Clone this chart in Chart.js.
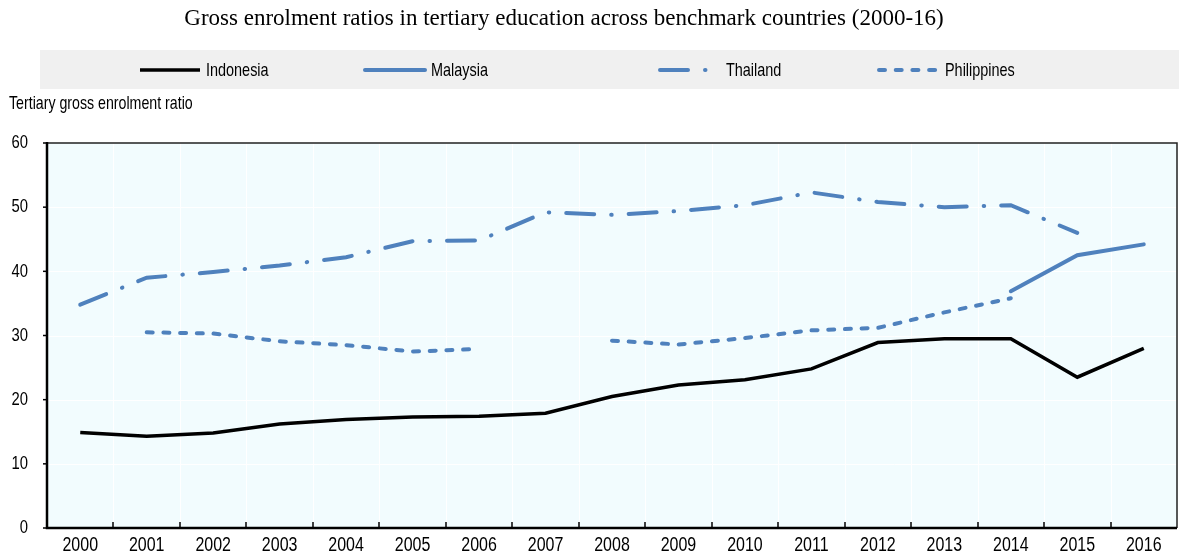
<!DOCTYPE html>
<html>
<head>
<meta charset="utf-8">
<script src="https://cdn.jsdelivr.net/npm/chart.js@4/dist/chart.umd.min.js"></script>
<style>
  html, body { margin: 0; padding: 0; background: #fff; }
  #wrap { width: 1179px; height: 558px; position: relative; }
</style>
</head>
<body>
<div id="wrap"><canvas id="grafico"></canvas></div>
<script>
const years = ['2000', '2001', '2002', '2003', '2004', '2005', '2006', '2007', '2008',
  '2009', '2010', '2011', '2012', '2013', '2014', '2015', '2016'];
const indonesia = [14.9, 14.3, 14.8, 16.2, 16.9, 17.3, 17.4, 17.9, 20.5, 22.3, 23.1, 24.8, 28.9, 29.5, 29.5, 23.5, 28.0];
const malaysia = [null, null, null, null, null, null, null, null, null, null, null, null, null, null, 36.9, 42.5, 44.2];
const thailand = [34.8, 39.0, 39.9, 40.9, 42.2, 44.7, 44.8, 49.2, 48.8, 49.4, 50.3, 52.3, 50.8, 50.0, 50.3, 46.0, null];
const philippines = [null, 30.5, 30.3, 29.1, 28.5, 27.5, 27.9, null, 29.2, 28.6, 29.6, 30.8, 31.2, 33.6, 35.8, null, null];
const yTicks = [0, 10, 20, 30, 40, 50, 60];

const titulo = 'Gross enrolment ratios in tertiary education across benchmark countries (2000-16)';
const eixoY = 'Tertiary gross enrolment ratio';
const fonte = '"Liberation Sans", Arial, sans-serif';
const estreito = 0.78; // simula Arial Narrow
const azul = '#4f81bd';

// posições da legenda (início da linha)
const legendaX = [140, 365, 660, 879];

// texto "estreito": escala horizontal
function textoEstreito(ctx, txt, x, y, tam, alinhar) {
  ctx.save();
  ctx.translate(x, y);
  ctx.scale(estreito, 1);
  ctx.font = tam + 'px ' + fonte;
  ctx.textAlign = alinhar;
  ctx.textBaseline = 'middle';
  ctx.fillStyle = '#000';
  ctx.fillText(txt, 0, 0);
  ctx.restore();
}

const moldura = {
  id: 'moldura',
  beforeDatasetsDraw(chart) {
    const { ctx, chartArea: a } = chart;
    ctx.save();
    ctx.fillStyle = '#f2fcfe';
    ctx.fillRect(a.left, a.top, a.right - a.left, a.bottom - a.top);
    // grade branca
    ctx.strokeStyle = '#ffffff';
    ctx.lineWidth = 1;
    const x = chart.scales.x, y = chart.scales.y;
    yTicks.forEach(v => {
      if (v === 0 || v === 60) return;
      const py = Math.round(y.getPixelForValue(v)) + 0.5;
      ctx.beginPath(); ctx.moveTo(a.left, py); ctx.lineTo(a.right, py); ctx.stroke();
    });
    for (let i = 1; i < years.length; i++) {
      const px = Math.round((x.getPixelForValue(i - 1) + x.getPixelForValue(i)) / 2) + 0.5;
      ctx.beginPath(); ctx.moveTo(px, a.top); ctx.lineTo(px, a.bottom); ctx.stroke();
    }
    ctx.restore();
  },
  afterDraw(chart) {
    const { ctx, chartArea: a } = chart;
    const x = chart.scales.x, y = chart.scales.y;
    ctx.save();
    // borda superior e direita
    ctx.strokeStyle = '#222';
    ctx.lineWidth = 1.5;
    ctx.beginPath();
    ctx.moveTo(a.left, a.top); ctx.lineTo(a.right, a.top); ctx.lineTo(a.right, a.bottom);
    ctx.stroke();
    // eixos
    ctx.strokeStyle = '#000';
    ctx.lineWidth = 2.5;
    ctx.beginPath();
    ctx.moveTo(a.left, a.top - 1); ctx.lineTo(a.left, a.bottom); ctx.lineTo(a.right, a.bottom);
    ctx.stroke();
    // ticks do eixo x (para dentro)
    ctx.lineWidth = 1.5;
    for (let i = 1; i < years.length; i++) {
      const px = Math.round((x.getPixelForValue(i - 1) + x.getPixelForValue(i)) / 2);
      ctx.beginPath(); ctx.moveTo(px, a.bottom); ctx.lineTo(px, a.bottom - 6); ctx.stroke();
    }
    // ticks do eixo y (para fora)
    yTicks.forEach(v => {
      const py = y.getPixelForValue(v);
      ctx.beginPath(); ctx.moveTo(a.left - 4, py); ctx.lineTo(a.left, py); ctx.stroke();
    });

    // rótulos dos eixos
    years.forEach((lab, i) => {
      textoEstreito(ctx, lab, x.getPixelForTick(i), a.bottom + 17, 20.5, 'center');
    });
    y.ticks.forEach((t, i) => {
      textoEstreito(ctx, String(t.value), 28, y.getPixelForTick(i), 19, 'right');
    });

    // título
    ctx.fillStyle = '#000';
    ctx.font = '23px "Liberation Serif", "Times New Roman", serif';
    ctx.textAlign = 'center';
    ctx.textBaseline = 'middle';
    ctx.fillText(titulo, 564, 19);

    // faixa da legenda
    ctx.fillStyle = '#f0f0f0';
    ctx.fillRect(40, 50, 1139, 39);
    chart.data.datasets.forEach((ds, i) => {
      const lx = legendaX[i];
      ctx.strokeStyle = ds.borderColor;
      ctx.lineWidth = ds.borderWidth;
      ctx.lineCap = ds.borderCapStyle || 'butt';
      ctx.setLineDash(ds.borderDash || []);
      ctx.beginPath(); ctx.moveTo(lx, 70); ctx.lineTo(lx + 60, 70); ctx.stroke();
      ctx.setLineDash([]);
      textoEstreito(ctx, ds.label, lx + 66, 71, 18.5, 'left');
    });

    // título do eixo y
    textoEstreito(ctx, eixoY, 9, 104, 18.2, 'left');
    ctx.restore();
  }
};

const ctxGrafico = document.getElementById('grafico').getContext('2d');
new Chart(ctxGrafico, {
  type: 'line',
  data: {
    labels: years,
    datasets: [{
      label: 'Indonesia',
      data: indonesia,
      borderColor: '#000000',
      borderWidth: 3.5,
      borderCapStyle: 'butt'
    }, {
      label: 'Malaysia',
      data: malaysia,
      borderColor: azul,
      borderWidth: 4,
      borderCapStyle: 'round'
    }, {
      label: 'Thailand',
      data: thailand,
      borderColor: azul,
      borderWidth: 4,
      borderCapStyle: 'round',
      borderDash: [28, 17, 0.5, 17]
    }, {
      label: 'Philippines',
      data: philippines,
      borderColor: azul,
      borderWidth: 4,
      borderCapStyle: 'round',
      borderDash: [6, 10.7]
    }]
  },
  options: {
    responsive: true,
    maintainAspectRatio: false,
    animation: false,
    spanGaps: false,
    layout: { padding: { top: 143, right: 2, left: 0, bottom: 0 } },
    elements: { point: { radius: 0 }, line: { tension: 0 } },
    plugins: { legend: { display: false }, title: { display: false }, tooltip: { enabled: false } },
    scales: {
      x: {
        offset: true,
        grid: { display: false, drawTicks: false },
        border: { display: false },
        ticks: { display: false, autoSkip: false },
        afterFit: s => { s.height = 30; }
      },
      y: {
        min: 0,
        max: 60,
        grid: { display: false, drawTicks: false },
        border: { display: false },
        ticks: { display: false, stepSize: 10 },
        afterFit: s => { s.width = 47; }
      }
    }
  },
  plugins: [moldura]
});
</script>
</body>
</html>
